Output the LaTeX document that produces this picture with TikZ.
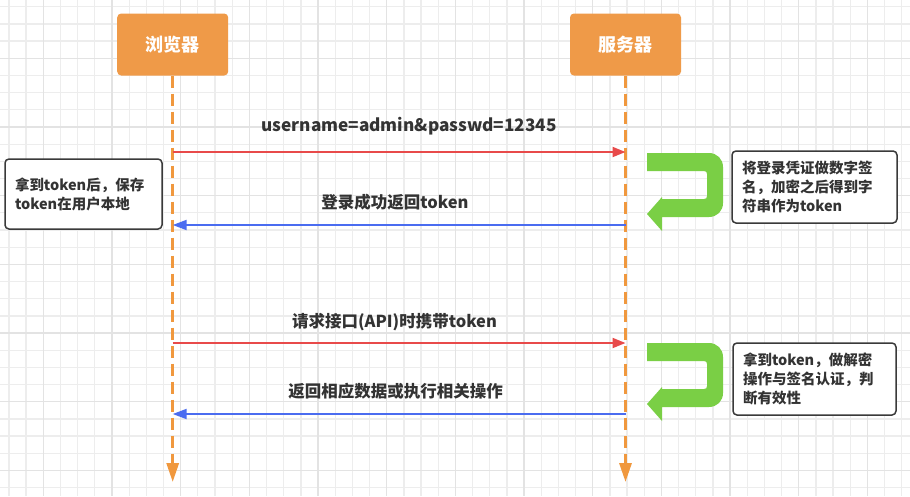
\documentclass[tikz,border=0pt]{standalone}
\usepackage{fontspec}
\setmainfont{Noto Sans CJK SC}
\usetikzlibrary{arrows.meta}
\definecolor{boxorange}{HTML}{EF9A48}
\definecolor{lineorange}{HTML}{F0983E}
\definecolor{reqred}{HTML}{E84A4A}
\definecolor{resblue}{HTML}{4A6CF0}
\definecolor{turngreen}{HTML}{7ACF45}
\definecolor{txt}{HTML}{333333}
\definecolor{notebd}{HTML}{3A3A3A}
\definecolor{gridminor}{HTML}{EDEDED}
\definecolor{gridmajor}{HTML}{E3E3E3}
\begin{document}
\begin{tikzpicture}[x=1pt,y=-1pt,
  actor/.style={fill=boxorange,rounded corners=4pt,minimum width=111pt,minimum height=62pt,
    text=white,font=\bfseries\fontsize{18}{20}\selectfont,inner sep=0pt},
  life/.style={draw=lineorange,line width=3pt,dash pattern=on 12pt off 6pt,
    -{Triangle[length=19pt,width=12pt]}},
  req/.style={draw=reqred,line width=2pt,-{Triangle[length=13pt,width=10pt]}},
  res/.style={draw=resblue,line width=2pt,-{Triangle[length=14pt,width=10pt]}},
  lbl/.style={text=txt,font=\bfseries\fontsize{16.5}{19}\selectfont,inner sep=0pt},
  note/.style={draw=notebd,line width=1.5pt,fill=white,rounded corners=4pt,
    text=txt,font=\bfseries\fontsize{14.5}{19}\selectfont,align=left,
    inner xsep=10pt,inner ysep=0pt},
  turn/.style={fill=turngreen},
  gminor/.style={draw=gridminor,line width=1.3pt},
  gmajor/.style={draw=gridmajor,line width=1.3pt}]
\useasboundingbox (0,0) rectangle (910,496);
\fill[white] (0,0) rectangle (910,496);
% grid
\foreach \i in {0,...,53} {\draw[gminor] ({8.97+17.17*\i},0) -- ({8.97+17.17*\i},496);}
\foreach \j in {0,...,29} {\draw[gminor] (0,{6.8+17.17*\j}) -- (910,{6.8+17.17*\j});}
\foreach \i in {0,...,13} {\draw[gmajor] ({43.3+68.68*\i},0) -- ({43.3+68.68*\i},496);}
\foreach \j in {0,...,6} {\draw[gmajor] (0,{58.3+68.68*\j}) -- (910,{58.3+68.68*\j});}

% actors
\node[actor] (b) at (172.7,44.5) {浏览器};
\node[actor] (s) at (625.5,44.5) {服务器};
\coordinate (bend) at (172.7,482);
\coordinate (send) at (625.5,482);
\draw[life] (b.south) -- (bend);
\draw[life] (s.south) -- (send);

% message anchors
\coordinate (b1) at (172.7,152); \coordinate (s1) at (625.5,152);
\coordinate (b2) at (172.7,225); \coordinate (s2) at (625.5,225);
\coordinate (b3) at (172.7,343); \coordinate (s3) at (625.5,343);
\coordinate (b4) at (172.7,414); \coordinate (s4) at (625.5,414);

\draw[req] (b1) -- (s1);
\draw[res] (s2) -- (b2);
\draw[req] (b3) -- (s3);
\draw[res] (s4) -- (b4);

\node[lbl,font=\bfseries\fontsize{17.2}{19}\selectfont] (m1) at (409,126) {username=admin\&passwd=12345};
\node[lbl] (m2) at (395,202) {登录成功返回token};
\node[lbl] (m3) at (394.5,322) {请求接口(API)时携带token};
\node[lbl] (m4) at (395.5,391) {返回相应数据或执行相关操作};

% green turn arrows
\foreach \oy [count=\k] in {153,343} {
  \begin{scope}[shift={(647,\oy)}]
    \fill[turn] (0,0) -- (62,0) .. controls (70,0) and (76,6) .. (76,14) -- (76,50)
      .. controls (76,58) and (70,64) .. (62,64) -- (15,64) -- (15,78) -- (0,61)
      -- (15,44) -- (15,46) -- (57,46) .. controls (59,46) and (60,45) .. (60,43)
      -- (60,21) .. controls (60,19) and (59,18) .. (57,18) -- (0,18) -- cycle;
  \end{scope}
}

% notes
\node[note,minimum width=157pt,minimum height=70pt,text width=137pt] (n1) at (83.5,194)
  {拿到token后，保存\\token在用户本地};
\node[note,minimum width=165pt,minimum height=72pt,text width=145pt] (n2) at (814.5,187)
  {将登录凭证做数字签\\名，加密之后得到字\\符串作为token};
\node[note,minimum width=163pt,minimum height=72pt,text width=143pt] (n3) at (814.5,379)
  {拿到token，做解密\\操作与签名认证，判\\断有效性};
\end{tikzpicture}
\end{document}
